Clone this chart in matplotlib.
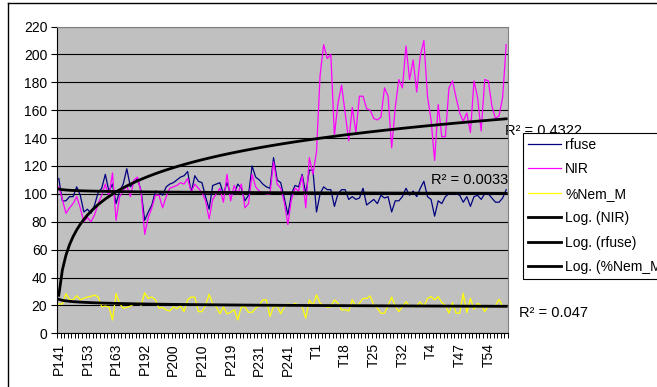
import numpy as np
import matplotlib
matplotlib.use("Agg")
import matplotlib.pyplot as plt
from matplotlib.lines import Line2D

plt.rcParams['font.family'] = ['Liberation Sans', 'DejaVu Sans']

# sample values, one per category (P141 ... T5x)
rfuse = [111, 95, 95, 98, 98, 105, 99, 87, 89, 86,
         92, 101, 104, 114, 102, 107, 93, 102, 107, 118,
         105, 108, 111, 102, 81, 87, 92, 102, 101, 99,
         105, 107, 108, 110, 112, 113, 116, 101, 113, 109,
         108, 98, 89, 106, 107, 108, 100, 108, 100, 100,
         107, 104, 95, 99, 120, 112, 110, 107, 105, 104,
         126, 110, 108, 97, 85, 100, 106, 105, 114, 100,
         117, 117, 87, 100, 105, 103, 103, 91, 100, 103,
         103, 96, 98, 96, 97, 104, 92, 94, 96, 93,
         99, 97, 98, 87, 95, 95, 98, 104, 99, 102,
         98, 104, 109, 98, 96, 84, 95, 93, 98, 100,
         100, 100, 99, 94, 98, 91, 98, 99, 96, 100,
         100, 97, 94, 94, 97, 103]

nir = [105, 96, 86, 90, 93, 98, 90, 80, 83, 80,
       85, 93, 99, 107, 98, 115, 81, 98, 102, 106,
       98, 110, 112, 101, 71, 83, 90, 99, 99, 90,
       98, 104, 105, 106, 108, 107, 111, 101, 107, 104,
       101, 95, 82, 96, 100, 104, 94, 114, 95, 106,
       100, 107, 90, 93, 114, 105, 102, 101, 100, 100,
       123, 107, 104, 94, 78, 96, 104, 102, 113, 90,
       126, 114, 130, 185, 207, 197, 200, 142, 165, 178,
       158, 138, 162, 144, 170, 170, 161, 160, 154, 153,
       155, 176, 170, 133, 162, 182, 176, 206, 182, 196,
       173, 199, 210, 170, 153, 124, 164, 141, 141, 176,
       181, 169, 158, 152, 158, 144, 181, 169, 145, 182,
       181, 163, 154, 156, 169, 207]

nem_m = [21, 21, 28.5, 24, 24, 27, 24, 25, 26, 26.5,
         27.4, 26, 19, 19.5, 19, 9.5, 28.5, 21.4, 18, 18.6,
         19.5, 21, 22, 20, 29, 25, 26, 24, 18, 18.6,
         16.7, 16, 19, 17.5, 20, 15.5, 24, 26, 26, 15.5,
         15.5, 20, 28, 21, 19, 14, 19, 14, 15, 17,
         9.5, 19, 19, 15, 15, 18, 20, 24, 24, 12,
         19, 19.5, 14, 19, 21, 20, 21.5, 20, 19, 10.8,
         24, 20, 27.5, 21.5, 20, 18.7, 19, 24, 21.5, 16.7,
         17, 16, 24, 19, 21.5, 25, 25, 26.8, 20, 18,
         14.4, 14.4, 20, 26, 19.6, 15.5, 19, 22.7, 19.6, 19,
         20, 22.7, 19, 25, 26.3, 24, 26.3, 22, 20, 14.4,
         22, 14.4, 14.4, 28.7, 14.8, 25, 17.2, 21.5, 20, 15.5,
         20, 19, 20, 24.4, 19, 20]

# every 8th category is labelled
tick_labels = ['P141', 'P153', 'P163', 'P192', 'P200', 'P210', 'P219', 'P231',
               'P241', 'T1', 'T18', 'T25', 'T32', 'T4', 'T47', 'T54']
r2_text = {'NIR': '0.4322', 'rfuse': '0.0033', '%Nem_M': '0.047'}

W, H = 657, 387
fig = plt.figure(figsize=(W / 100, H / 100), dpi=100)


def fx(px):
    return px / W


def fy(py):
    return 1 - py / H


ax = fig.add_axes([fx(57), fy(333.3), fx(508) - fx(57), fy(26.5) - fy(333.3)])
ax.set_facecolor('#C0C0C0')

n = len(nir)
idx = np.arange(n)
xlog = np.log(idx + 1)


def log_trend(y):
    a, b = np.polyfit(xlog, np.asarray(y, float), 1)
    return a * xlog + b


ax.plot(idx, rfuse, color='#000080', lw=0.9, label='rfuse', zorder=3)
ax.plot(idx, nir, color='#FF00FF', lw=0.9, label='NIR', zorder=3)
ax.plot(idx, nem_m, color='#FFFF00', lw=0.9, label='%Nem_M', zorder=3)
ax.plot(idx, log_trend(nir), color='black', lw=2, label='Log. (NIR)', zorder=4)
ax.plot(idx, log_trend(rfuse), color='black', lw=2, label='Log. (rfuse)', zorder=4)
ax.plot(idx, log_trend(nem_m), color='black', lw=2, label='Log. (%Nem_M)', zorder=4)

ax.set_xlim(-0.5, n - 0.5)
ax.set_ylim(0, 220)
ax.set_yticks(range(0, 221, 20))
ax.yaxis.grid(True, color='black', lw=0.8)
ax.set_axisbelow(True)
ax.tick_params(axis='y', length=4, width=0.8, pad=3, labelsize=10)

ax.set_xticks(idx[::8])
ax.set_xticklabels(tick_labels, rotation=90, fontsize=10)
ax.set_xticks(np.arange(-0.5, n, 1), minor=True)
ax.tick_params(axis='x', which='major', length=0, pad=7)
ax.tick_params(axis='x', which='minor', length=3.5, width=0.7)

for s in ['top', 'right']:
    ax.spines[s].set_color('#808080')
for s in ['left', 'bottom']:
    ax.spines[s].set_color('black')

# R squared labels
ax.text(fx(505), fy(135), 'R² = ' + r2_text['NIR'], transform=fig.transFigure,
        fontsize=10.5, va='baseline', ha='left', zorder=2)
ax.text(fx(508), fy(184), 'R² = ' + r2_text['rfuse'], transform=fig.transFigure,
        fontsize=10.5, va='baseline', ha='right', zorder=2)
ax.text(fx(519), fy(317), 'R² = ' + r2_text['%Nem_M'], transform=fig.transFigure,
        fontsize=10.5, va='baseline', ha='left', zorder=2)

leg = ax.legend(loc='upper left', bbox_to_anchor=(fx(523), fy(133)),
                bbox_transform=fig.transFigure, fontsize=10, frameon=True,
                fancybox=False, edgecolor='black', framealpha=1,
                handlelength=2.4, handletextpad=0.3, labelspacing=0.75,
                borderpad=0.35, borderaxespad=0)
leg.get_frame().set_linewidth(0.8)
leg.set_zorder(10)

# chart border
fig.add_artist(Line2D([fx(8), 1], [fy(3), fy(3)], color='black', lw=1))
fig.add_artist(Line2D([fx(8), fx(8)], [fy(3), 0], color='black', lw=1))

fig.savefig('out.png', dpi=100)
